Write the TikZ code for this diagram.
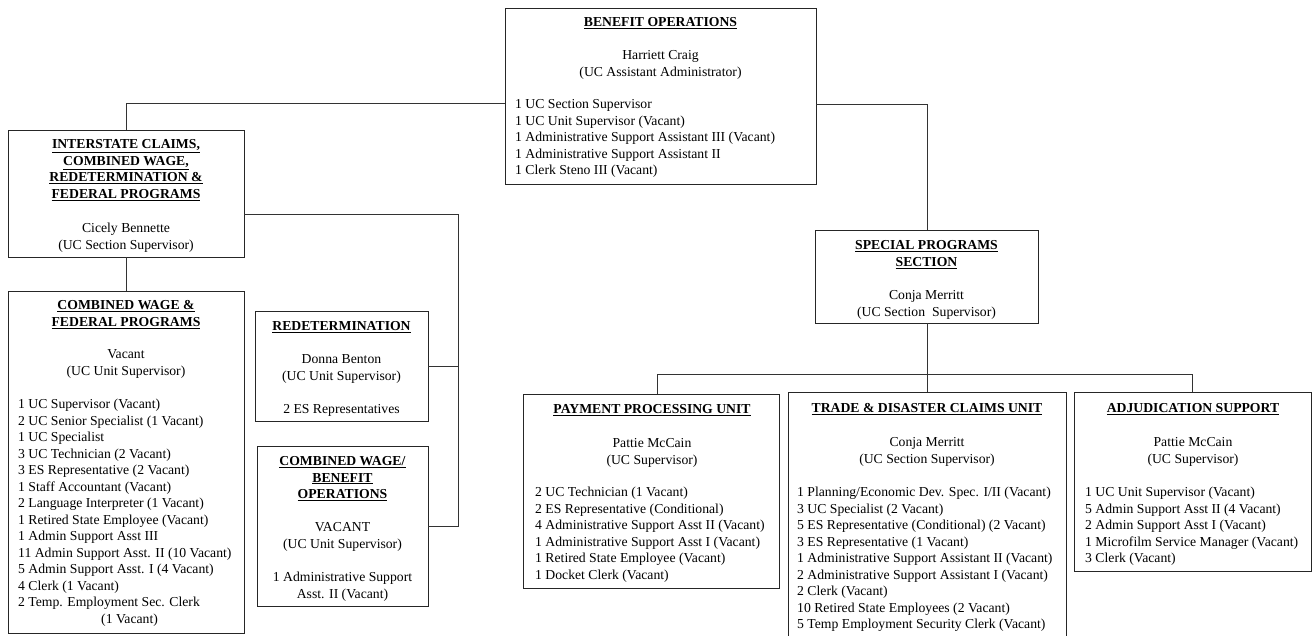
\documentclass[tikz,border=0pt]{standalone}
\usepackage{fontspec}
\setmainfont{Liberation Serif}
\begin{document}
\begin{tikzpicture}[x=1pt,y=-1pt,
  font=\fontsize{13.7}{16.5}\selectfont,
  box/.style={draw=black!85, line width=0.9pt, rectangle, inner sep=0pt},
  ttl/.style={anchor=north, align=center, inner sep=0pt},
  nm/.style={anchor=north, align=center, inner sep=0pt},
  lst/.style={anchor=north west, align=left, inner sep=0pt},
  conn/.style={draw=black!80, line width=0.8pt}]
\useasboundingbox (0,0) rectangle (1312,635);

% ---------- boxes ----------
\node[box, minimum width=311pt, minimum height=176pt] (bo) at (660.5,96) {};
\node[box, minimum width=236pt, minimum height=127pt] (ic) at (126,193.5) {};
\node[box, minimum width=236pt, minimum height=342pt] (cw) at (126,462) {};
\node[box, minimum width=173pt, minimum height=110pt] (rd) at (341.5,366) {};
\node[box, minimum width=171pt, minimum height=160pt] (cb) at (342.5,526) {};
\node[box, minimum width=223pt, minimum height=93pt] (sp) at (927,276.5) {};
\node[box, minimum width=256pt, minimum height=194pt] (pp) at (651,491) {};
\node[box, minimum width=278pt, minimum height=250pt] (td) at (927,517) {};
\node[box, minimum width=237pt, minimum height=179pt] (ad) at (1192.5,481.5) {};

% ---------- connectors ----------
\coordinate (trunk) at (458,0);
\coordinate (hbus) at (0,374);
\draw[conn] ([yshift=-7pt]bo.west) -| (ic.north);
\draw[conn] ([yshift=-8pt]bo.east) -| (sp.north);
\draw[conn] (ic.south) -- (cw.north);
\draw[conn] ([yshift=-20.5pt]ic.east) -| (trunk |- cb.east) -- (cb.east);
\draw[conn] (rd.east) -- (trunk |- rd.east);
\draw[conn] (sp.south) -- (td.north);
\draw[conn] ([xshift=6pt]pp.north) |- (ad.north |- hbus) -- (ad.north);

\begin{scope}[yshift=-1pt]
% ---------- Benefit Operations ----------
\node[ttl] (boT) at (660.5,14) {\strut\underline{\textbf{BENEFIT OPERATIONS}}};
\node[nm] (boN) at (660.5,47) {\strut Harriett Craig\\(UC Assistant Administrator)};
\node[lst] (boL) at (515,96) {\strut 1 UC Section Supervisor\\
1 UC Unit Supervisor (Vacant)\\
1 Administrative Support Assistant III (Vacant)\\
1 Administrative Support Assistant II\\
1 Clerk Steno III (Vacant)};

% ---------- Interstate ----------
\node[ttl] (icT) at (126,136) {\strut\underline{\textbf{INTERSTATE CLAIMS,}}\\
\underline{\textbf{COMBINED WAGE,}}\\
\underline{\textbf{REDETERMINATION \&}}\\
\underline{\textbf{FEDERAL PROGRAMS}}};
\node[nm] (icN) at (126,220) {\strut Cicely Bennette\\(UC Section Supervisor)};

% ---------- Combined Wage & Federal ----------
\node[ttl] (cwT) at (126,297) {\strut\underline{\textbf{COMBINED WAGE \&}}\\
\underline{\textbf{FEDERAL PROGRAMS}}};
\node[nm] (cwN) at (126,346) {\strut Vacant\\(UC Unit Supervisor)};
\node[lst] (cwL) at (18,396) {\strut 1 UC Supervisor (Vacant)\\
2 UC Senior Specialist (1 Vacant)\\
1 UC Specialist\\
3 UC Technician (2 Vacant)\\
3 ES Representative (2 Vacant)\\
1 Staff Accountant (Vacant)\\
2 Language Interpreter (1 Vacant)\\
1 Retired State Employee (Vacant)\\
1 Admin Support Asst III\\
11 Admin Support Asst. II (10 Vacant)\\
5 Admin Support Asst. I (4 Vacant)\\
4 Clerk (1 Vacant)\\
2 Temp. Employment Sec. Clerk\\
\hspace*{83pt}(1 Vacant)};

% ---------- Redetermination ----------
\node[ttl] (rdT) at (341.5,318) {\strut\underline{\textbf{REDETERMINATION}}};
\node[nm] (rdN) at (341.5,351) {\strut Donna Benton\\(UC Unit Supervisor)};
\node[nm] (rdL) at (341.5,401) {\strut 2 ES Representatives};

% ---------- Combined Wage / Benefit Operations ----------
\node[ttl] (cbT) at (342.5,453) {\strut\underline{\textbf{COMBINED WAGE/}}\\
\underline{\textbf{BENEFIT}}\\
\underline{\textbf{OPERATIONS}}};
\node[nm] (cbN) at (342.5,519) {\strut VACANT\\(UC Unit Supervisor)};
\node[nm] (cbL) at (342.5,569) {\strut 1 Administrative Support\\Asst. II (Vacant)};

% ---------- Special Programs ----------
\node[ttl] (spT) at (926.5,237) {\strut\underline{\textbf{SPECIAL PROGRAMS}}\\
\underline{\textbf{SECTION}}};
\node[nm] (spN) at (926.5,287) {\strut Conja Merritt\\(UC Section\ \ Supervisor)};

% ---------- Payment Processing ----------
\node[ttl] (ppT) at (652,401) {\strut\underline{\textbf{PAYMENT PROCESSING UNIT}}};
\node[nm] (ppN) at (652,435) {\strut Pattie McCain\\(UC Supervisor)};
\node[lst] (ppL) at (535,484) {\strut 2 UC Technician (1 Vacant)\\
2 ES Representative (Conditional)\\
4 Administrative Support Asst II (Vacant)\\
1 Administrative Support Asst I (Vacant)\\
1 Retired State Employee (Vacant)\\
1 Docket Clerk (Vacant)};

% ---------- Trade & Disaster ----------
\node[ttl] (tdT) at (927,400) {\strut\underline{\textbf{TRADE \& DISASTER CLAIMS UNIT}}};
\node[nm] (tdN) at (927,434) {\strut Conja Merritt\\(UC Section Supervisor)};
\node[lst] (tdL) at (797,484) {\strut 1 Planning/Economic Dev. Spec. I/II (Vacant)\\
3 UC Specialist (2 Vacant)\\
5 ES Representative (Conditional) (2 Vacant)\\
3 ES Representative (1 Vacant)\\
1 Administrative Support Assistant II (Vacant)\\
2 Administrative Support Assistant I (Vacant)\\
2 Clerk (Vacant)\\
10 Retired State Employees (2 Vacant)\\
5 Temp Employment Security Clerk (Vacant)};

% ---------- Adjudication ----------
\node[ttl] (adT) at (1193,400) {\strut\underline{\textbf{ADJUDICATION SUPPORT}}};
\node[nm] (adN) at (1193,434) {\strut Pattie McCain\\(UC Supervisor)};
\node[lst] (adL) at (1085,484) {\strut 1 UC Unit Supervisor (Vacant)\\
5 Admin Support Asst II (4 Vacant)\\
2 Admin Support Asst I (Vacant)\\
1 Microfilm Service Manager (Vacant)\\
3 Clerk (Vacant)};
\end{scope}
\end{tikzpicture}
\end{document}
